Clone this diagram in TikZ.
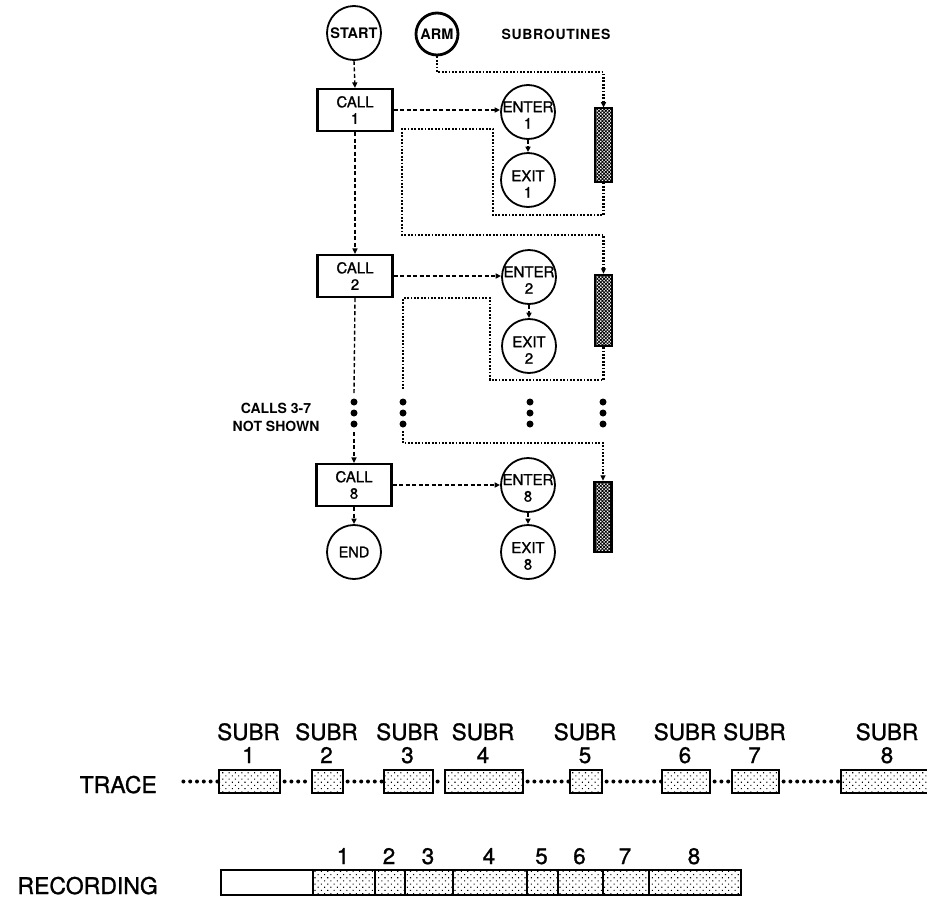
\documentclass[tikz,border=0pt]{standalone}
\usepackage{fontspec}
\setmainfont{TeX Gyre Heros}
\newfontfamily\medfont{TeX Gyre Heros}[FakeBold=1.1]
\usetikzlibrary{arrows.meta,patterns,patterns.meta}
\begin{document}
\begin{tikzpicture}[x=1pt,y=-1pt,
  circ/.style={circle,draw,line width=1.8pt,minimum size=54pt,inner sep=0pt},
  ctext/.style={align=center,font=\medfont\fontsize{15}{16.5}\selectfont,inner sep=0pt},
  callbox/.style={rectangle,draw,line width=2.2pt,minimum width=75pt,minimum height=42pt,inner sep=0pt,align=center,font=\medfont\fontsize{15}{16.5}\selectfont},
  subbar/.style={rectangle,draw,line width=2.4pt,minimum width=17pt,inner sep=0pt,pattern={Hatch[angle=45,distance=2.4pt,line width=0.8pt]}},
  flow/.style={line width=1.4pt,dash pattern=on 4pt off 2.5pt,-{Triangle[length=5.5pt,width=5pt]}},
  flowplain/.style={line width=1.4pt,dash pattern=on 4pt off 2.5pt},
  dotl/.style={line width=2.4pt,dash pattern=on 1.8pt off 1.6pt},
  dota/.style={dotl,-{Triangle[length=5.5pt,width=5pt]}},
  bigdot/.style={circle,fill,inner sep=0pt,minimum size=7pt},
  tbox/.style={rectangle,draw,line width=2.2pt,minimum height=23pt,inner sep=0pt,anchor=west,pattern={Dots[distance=4.5pt,radius=0.75pt,angle=45]}},
  rbox/.style={rectangle,draw,line width=2.2pt,minimum height=25pt,inner sep=0pt,anchor=west},
  tdots/.style={line width=4pt,line cap=round,dash pattern=on 0pt off 6.8pt,dash phase=3.4pt},
  big/.style={font=\medfont\fontsize{22.5}{24}\selectfont,inner sep=0pt},
  bigger/.style={font=\medfont\fontsize{23}{25}\selectfont,inner sep=0pt}
]
\useasboundingbox (0,0) rectangle (927,900);
\clip (0,0) rectangle (927,900);
\fill[white] (0,0) rectangle (927,900);

% --- top flow chart ---
\node[circ,font=\bfseries\fontsize{14.5}{15}\selectfont] (start) at (354,33) {START};
\node[circle,draw,line width=2.8pt,minimum size=42pt,inner sep=0pt,font=\bfseries\fontsize{14.5}{15}\selectfont] (arm) at (437,34) {ARM};
\node[font=\bfseries\fontsize{14}{15}\selectfont\addfontfeatures{LetterSpace=5}] (subr) at (556,34) {SUBROUTINES};

\node[callbox] (call1) at (355,110) {CALL\\1};
\node[callbox] (call2) at (355,276) {CALL\\2};
\node[callbox] (call8) at (354,485) {CALL\\8};
\node[circ,font=\medfont\fontsize{14.5}{15}\selectfont] (end) at (354,552) {END};

\node[circ] (en1) at (528,112) {};
\node[ctext] (en1t) at ([yshift=-3pt]en1.center) {ENTER\\1};
\node[circ] (ex1) at (528,180) {};
\node[ctext] (ex1t) at ([yshift=-4pt]ex1.center) {EXIT\\1};
\node[circ] (en2) at (529,277) {};
\node[ctext] (en2t) at ([yshift=-3pt]en2.center) {ENTER\\2};
\node[circ] (ex2) at (529,346) {};
\node[ctext] (ex2t) at ([yshift=-4pt]ex2.center) {EXIT\\2};
\node[circ] (en8) at (528,485) {};
\node[ctext] (en8t) at ([yshift=-3pt]en8.center) {ENTER\\8};
\node[circ] (ex8) at (528,552) {};
\node[ctext] (ex8t) at ([yshift=-4pt]ex8.center) {EXIT\\8};

\node[subbar,minimum height=74pt] (bar1) at (603.5,145) {};
\node[subbar,minimum height=71pt] (bar2) at (603.5,310.5) {};
\node[subbar,minimum height=70pt] (bar3) at (603,517) {};

\node[align=center,font=\bfseries\fontsize{14}{18}\selectfont] (note) at (276,417) {CALLS 3-7\\NOT SHOWN};

% ellipsis dots
\foreach \c/\x in {a/354,b/403,c/530,d/603}{
  \foreach \i/\y in {1/402,2/413,3/424}{
    \node[bigdot] (dot\c\i) at (\x,\y) {};
  }
}

\coordinate (m1) at (354,394);
\coordinate (m2) at (354,432);
\coordinate (l2end) at (403,390);
\coordinate (l3start) at (403,431);

% flow connectors
\draw[flow] (start.south) -- (call1.north);
\draw[flow] (call1.south) -- (call2.north);
\draw[flowplain] (call2.south) -- (m1);
\draw[flow] (m2) -- (call8.north);
\draw[flow] (call8.south) -- (end.north);
\draw[flow] (call1.east) -- (call1.east -| en1.west);
\draw[flow] (call2.east) -- (call2.east -| en2.west);
\draw[flow] (call8.east) -- (call8.east -| en8.west);
\draw[flow] (en1.south) -- (ex1.north);
\draw[flow] (en2.south) -- (ex2.north);
\draw[flow] (en8.south) -- (ex8.north);

% dotted subroutine paths
\draw[dota] (arm.south) -- (437,72) -- (603.5,72) -- (bar1.north);
\draw[dota] (bar1.south) -- (603.5,215) -- (493,215) -- (493,129) -- (402,129) -- (402,235) -- (603.5,235) -- (bar2.north);
\draw[dotl] (bar2.south) -- (603.5,380) -- (490,380) -- (490,298) -- (403,298) -- (l2end);
\draw[dota] (l3start) -- (403,443) -- (603,443) -- (bar3.north);

% --- trace ---
\node[bigger,anchor=base east] (trace) at (157,793) {TRACE};
\node[bigger,anchor=base east] (rec) at (158,894) {RECORDING};

\foreach \n/\a/\b in {1/218/279,2/311/342,3/383/432,4/444/522,5/569/601,6/661/709,7/731/778,8/840/934}{
  \pgfmathsetmacro{\w}{\b-\a}
  \node[tbox,minimum width=\w pt] (t\n) at (\a,781.5) {};
  \node[big,anchor=base] (s\n) at ({(\a+\b)/2},740) {SUBR};
  \node[big,anchor=base] (n\n) at ({(\a+\b)/2},763) {\n};
}
\coordinate (tstart) at (180,781.5);
\draw[tdots] (tstart) -- (t1.west);
\draw[tdots] (t1.east) -- (t2.west);
\draw[tdots] (t2.east) -- (t3.west);
\draw[tdots] (t3.east) -- (t4.west);
\draw[tdots] (t4.east) -- (t5.west);
\draw[tdots] (t5.east) -- (t6.west);
\draw[tdots] (t6.east) -- (t7.west);
\draw[tdots] (t7.east) -- (t8.west);

% --- recording ---
\node[rbox,minimum width=92pt] (r0) at (220,882.5) {};
\foreach \n/\a/\b in {1/312/374,2/374/404,3/404/452,4/452/526,5/526/557,6/557/602,7/602/648,8/648/740}{
  \pgfmathsetmacro{\w}{\b-\a}
  \node[rbox,minimum width=\w pt,pattern={Dots[distance=4.5pt,radius=0.75pt,angle=45]}] (r\n) at (\a,882.5) {};
  \node[big,anchor=base] (rl\n) at ({(\a+\b)/2},864) {\n};
}
\end{tikzpicture}
\end{document}
